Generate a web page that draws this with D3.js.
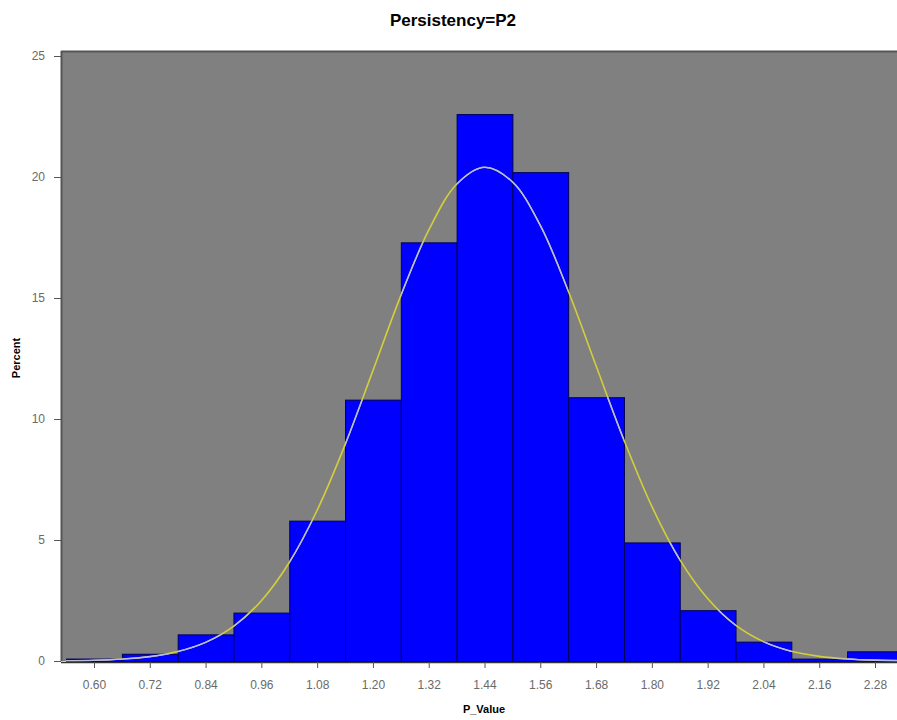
<!DOCTYPE html>
<html>
<head>
<meta charset="utf-8">
<script src="https://cdn.jsdelivr.net/npm/d3@7"></script>
<style>
  body { margin: 0; background: #fff; }
  svg { display: block; font-family: "Liberation Sans", Arial, sans-serif; }
</style>
</head>
<body>
<svg id="chart"></svg>
<script>
const w = 897,
      h = 720;
const binWidth = 0.12;

// histogram bins (midpoints) and percent per bin
const binMids = [0.60, 0.72, 0.84, 0.96, 1.08, 1.20, 1.32, 1.44, 1.56, 1.68, 1.80, 1.92, 2.04, 2.16, 2.28];
const percents = [0.1, 0.3, 1.1, 2.0, 5.8, 10.8, 17.3, 22.6, 20.2, 10.9, 4.9, 2.1, 0.8, 0.1, 0.4];

// fitted curve
const curveX = [0.54, 0.60, 0.66, 0.72, 0.78, 0.84, 0.90, 0.96, 1.02, 1.08, 1.14, 1.20, 1.26, 1.32, 1.38, 1.44,
                1.50, 1.56, 1.62, 1.68, 1.74, 1.80, 1.86, 1.92, 1.98, 2.04, 2.10, 2.16, 2.22, 2.28, 2.34];
const curveY = [0.01, 0.03, 0.08, 0.18, 0.39, 0.77, 1.43, 2.49, 4.07, 6.23, 8.93, 12.0, 15.1, 17.8, 19.7, 20.4,
                19.8, 18.0, 15.3, 12.2, 9.13, 6.39, 4.19, 2.58, 1.48, 0.80, 0.40, 0.19, 0.085, 0.035, 0.014];

const yTicks = [0, 5, 10, 15, 20, 25];

const margin = {left: 61, top: 51, bottom: 58};
const plotBottom = h - margin.bottom - 1;   // y of 0

const svg = d3.select('#chart').attr('width', w).attr('height', h);

// x: 0.60 sits at 94px, 0.12 per ~55.8px
const x = d3.scaleLinear().domain([0.60, 2.28]).range([94, 875]);
const y = d3.scaleLinear().domain([0, 25]).range([plotBottom, 56]);

// plot background (runs off the right edge like the original)
svg.append('rect')
   .attr('x', margin.left).attr('y', margin.top)
   .attr('width', w - margin.left + 10).attr('height', plotBottom - margin.top)
   .attr('fill', '#808080');

svg.append('line')
   .attr('x1', margin.left).attr('x2', w)
   .attr('y1', margin.top + 0.5).attr('y2', margin.top + 0.5)
   .attr('stroke', '#555').attr('stroke-width', 2);

const bins = binMids.map((m, i) => ({x0: m - binWidth / 2, x1: m + binWidth / 2, v: percents[i]}));

svg.append('defs').append('clipPath').attr('id', 'barsClip')
   .selectAll('rect').data(bins).enter().append('rect')
   .attr('x', d => x(d.x0)).attr('y', d => y(d.v))
   .attr('width', d => x(d.x1) - x(d.x0)).attr('height', d => y(0) - y(d.v));

svg.append('g').selectAll('rect').data(bins).enter().append('rect')
   .attr('x', d => x(d.x0) + 0.5).attr('y', d => y(d.v) + 0.5)
   .attr('width', d => x(d.x1) - x(d.x0)).attr('height', d => y(0) - y(d.v))
   .attr('fill', '#0000ff')
   .attr('stroke', '#000055').attr('stroke-width', 1);

const line = d3.line().x((d, i) => x(curveX[i])).y(d => y(d)).curve(d3.curveCatmullRom);

svg.append('path').attr('d', line(curveY))
   .attr('fill', 'none').attr('stroke', '#d2cf3a').attr('stroke-width', 1.6);
svg.append('path').attr('d', line(curveY))
   .attr('clip-path', 'url(#barsClip)')
   .attr('fill', 'none').attr('stroke', '#b4b8ff').attr('stroke-width', 1.2);

// axes
const yAxis = svg.append('g').attr('transform', `translate(${margin.left},0)`)
   .call(d3.axisLeft(y).tickValues(yTicks).tickSize(7).tickPadding(9).tickFormat(d3.format('d')));
yAxis.select('.domain').attr('stroke', '#555').attr('stroke-width', 2)
   .attr('d', `M0.5,${margin.top}V${plotBottom}`);

const xAxis = svg.append('g').attr('transform', `translate(0,${plotBottom + 1})`)
   .call(d3.axisBottom(x).tickValues(binMids).tickSize(6).tickPadding(12).tickFormat(d3.format('.2f')));
xAxis.select('.domain').attr('stroke', '#333').attr('stroke-width', 1.5)
   .attr('d', `M${margin.left},0.5H${w}`);

[yAxis, xAxis].forEach(a => {
    a.selectAll('.tick line').attr('stroke', '#555');
    a.selectAll('.tick text').attr('fill', '#6a6a6a').style('font-size', '12px');
});

// titles
svg.append('text').attr('x', 453).attr('y', 26).attr('text-anchor', 'middle')
   .style('font-size', '17px').style('font-weight', 'bold').text('Persistency=P2');

svg.append('text').attr('x', 484).attr('y', 713).attr('text-anchor', 'middle')
   .style('font-size', '11px').style('font-weight', 'bold').text('P_Value');

svg.append('text').attr('transform', 'translate(20,358) rotate(-90)').attr('text-anchor', 'middle')
   .style('font-size', '11px').style('font-weight', 'bold').text('Percent');
</script>
</body>
</html>
